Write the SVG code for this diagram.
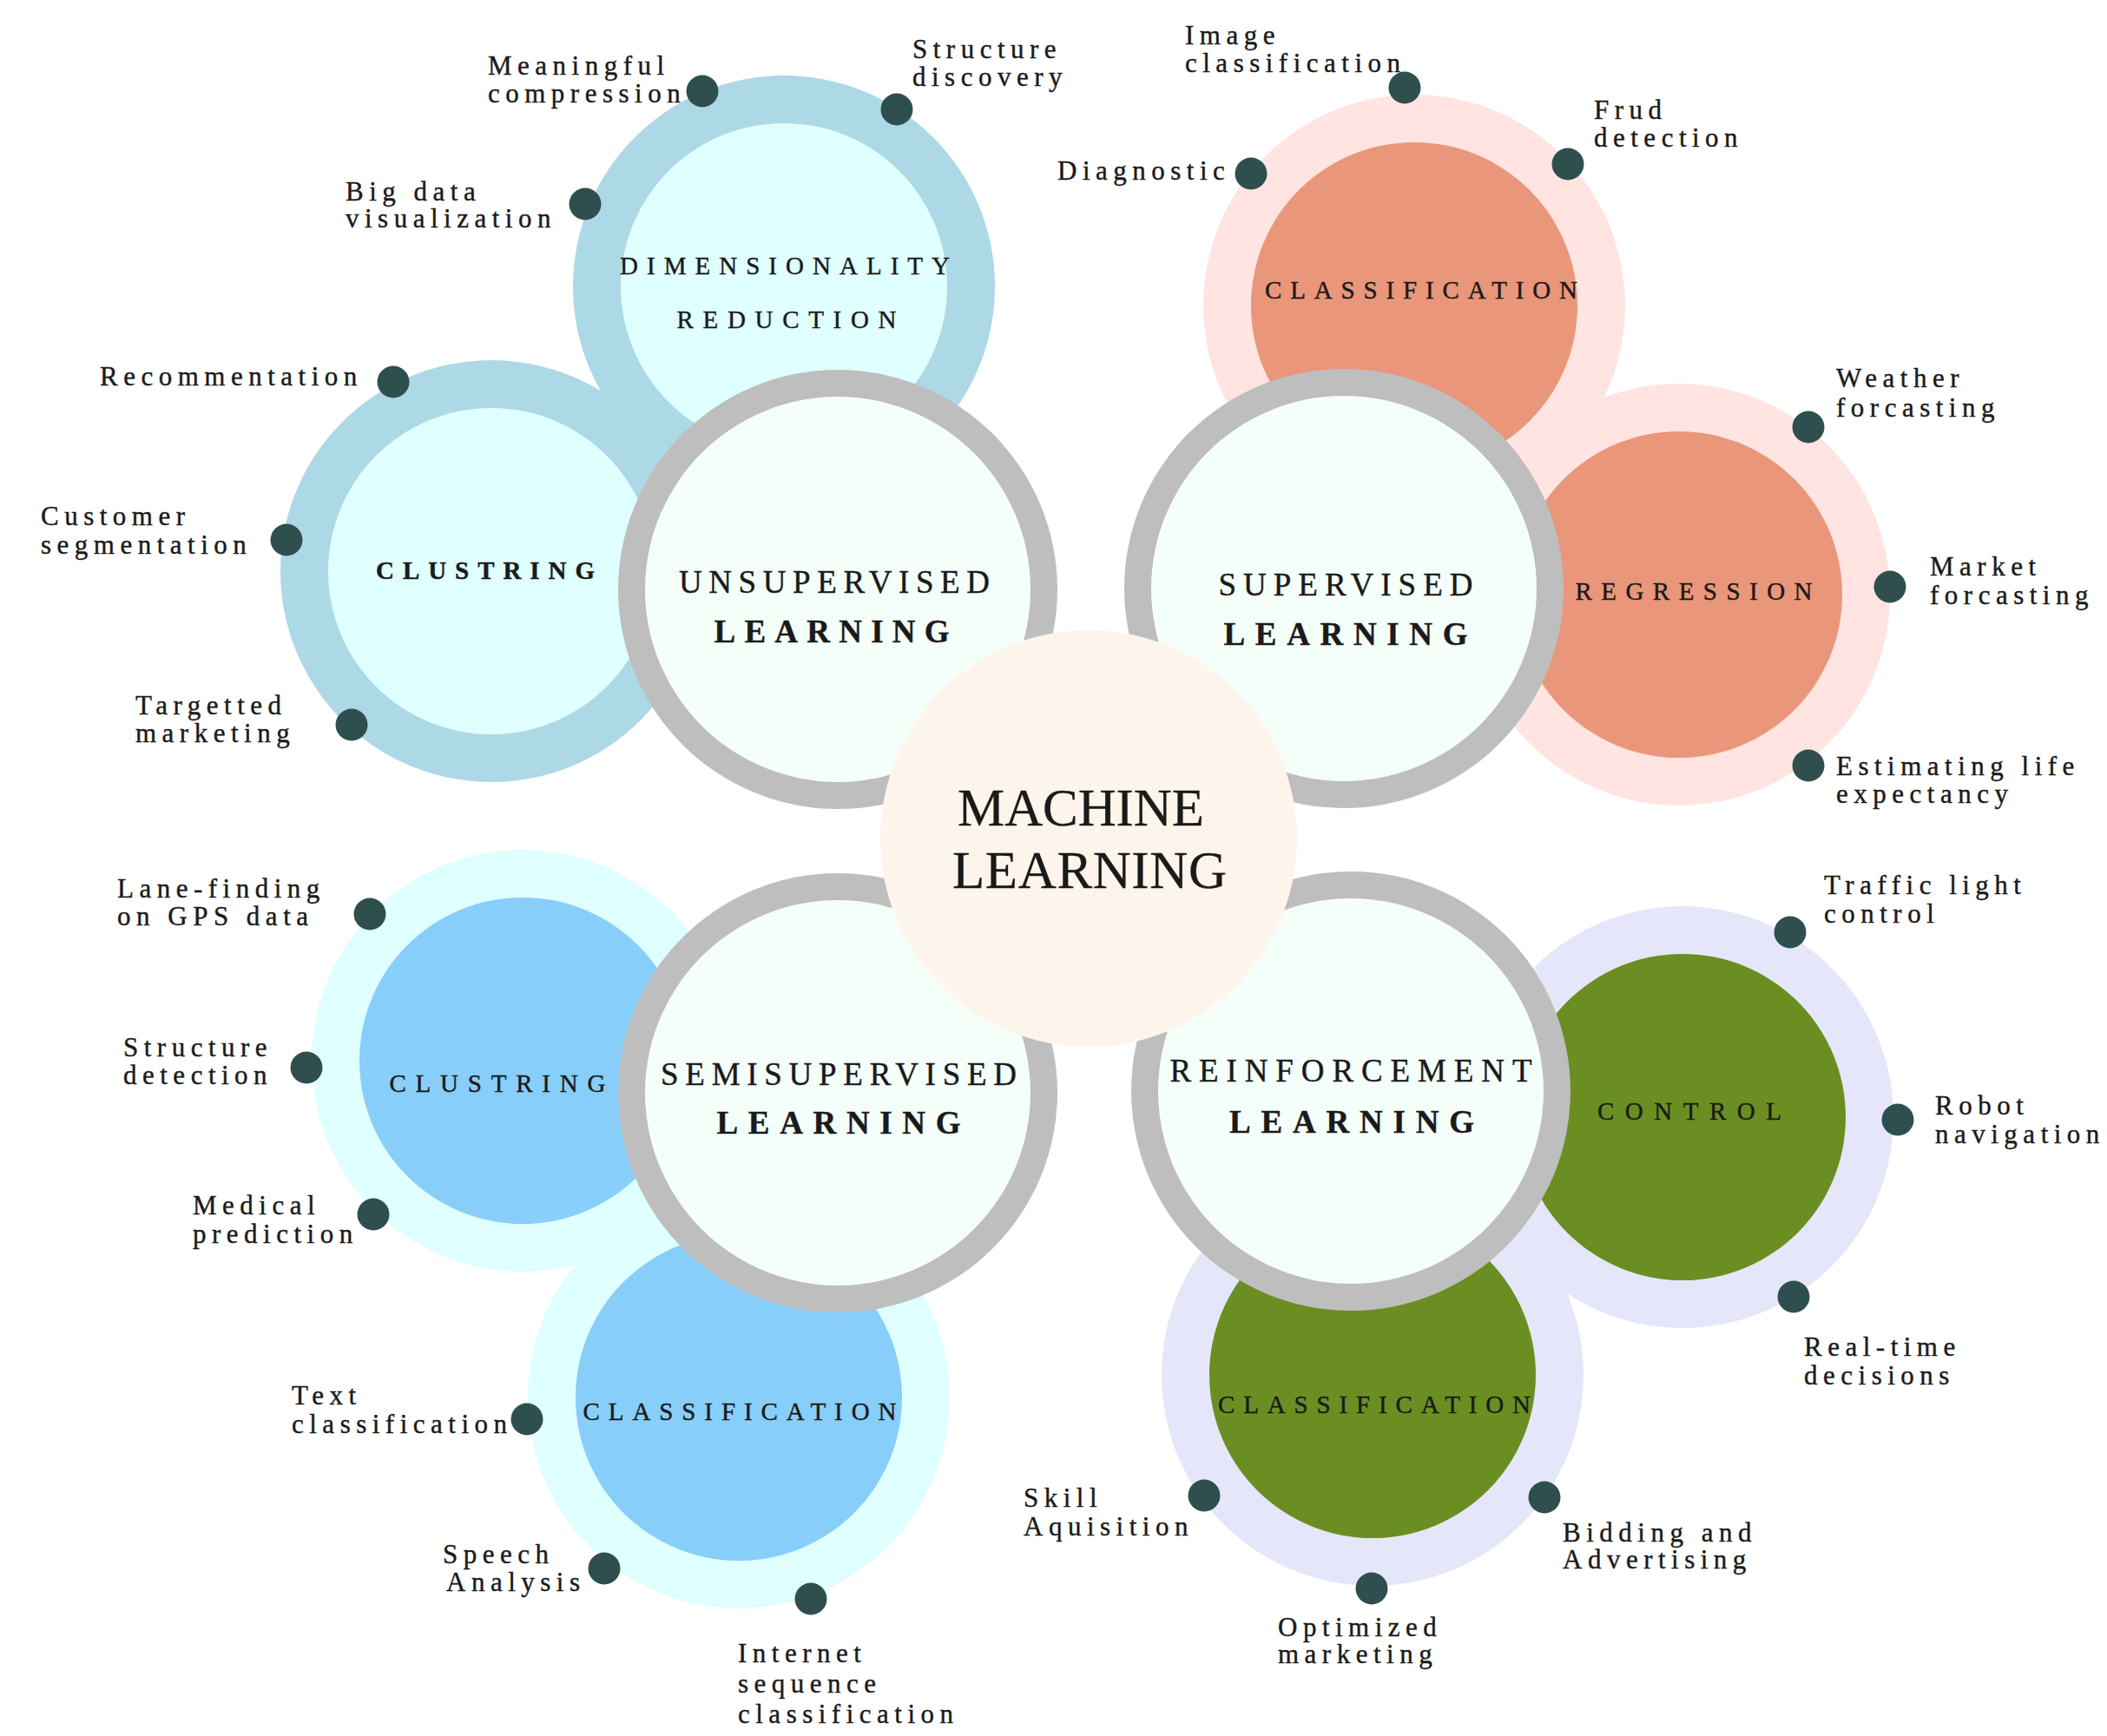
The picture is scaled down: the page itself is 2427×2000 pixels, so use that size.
<svg xmlns="http://www.w3.org/2000/svg" width="2427" height="2000" viewBox="0 0 2427 2000">
<style>
text{font-family:"Liberation Serif","Times New Roman",serif;fill:#1a1a1a;stroke:#1a1a1a;stroke-width:0.4px}
.lbl{font-size:31px;letter-spacing:6.5px}
.cat{font-size:29px;text-anchor:middle}
.catb{font-size:29px;text-anchor:middle;font-weight:bold}
.main{font-size:37px;text-anchor:middle}
.mainb{font-size:37px;text-anchor:middle;font-weight:bold}
.ml{font-size:61px;text-anchor:middle;stroke-width:0.3px}
.dot{fill:#2F4F4F}
.ring{fill:#BEBEBE}
.mint{fill:#F5FFFA}
.ub-o{fill:#ADD8E6}.ub-i{fill:#E0FFFF}
.sp-o{fill:#FFE4E1}.sp-i{fill:#E9967A}
.ss-o{fill:#E0FFFF}.ss-i{fill:#87CEFA}
.rf-o{fill:#E6E6FA}.rf-i{fill:#6B8E23}
</style>
<rect width="2427" height="2000" fill="#FFFFFF"/>
<g id="connectors"/>

<!-- Unsupervised sub nodes -->
<g id="dimensionality-reduction">
<circle class="ub-o" cx="903" cy="330" r="243"/>
<circle class="ub-i" cx="903" cy="330" r="188"/>
<text class="cat" x="904" y="316" textLength="380" lengthAdjust="spacing">DIMENSIONALITY</text>
<text class="cat" x="906" y="378" textLength="253" lengthAdjust="spacing">REDUCTION</text>
</g>
<g id="unsup-clustring">
<circle class="ub-o" cx="566" cy="658" r="243"/>
<circle class="ub-i" cx="566" cy="658" r="188"/>
<text class="catb" x="559" y="667" textLength="252" lengthAdjust="spacing">CLUSTRING</text>
</g>

<!-- Supervised sub nodes -->
<g id="sup-classification">
<circle class="sp-o" cx="1629" cy="352" r="243"/>
<circle class="sp-i" cx="1629" cy="352" r="188"/>
<text class="cat" x="1637" y="344" textLength="360" lengthAdjust="spacing">CLASSIFICATION</text>
</g>
<g id="regression">
<circle class="sp-o" cx="1934" cy="685" r="243"/>
<circle class="sp-i" cx="1934" cy="685" r="188"/>
<text class="cat" x="1951" y="691" textLength="273" lengthAdjust="spacing">REGRESSION</text>
</g>

<!-- Semisupervised sub nodes -->
<g id="semi-clustring">
<circle class="ss-o" cx="602" cy="1222" r="243"/>
<circle class="ss-i" cx="602" cy="1222" r="188"/>
<text class="cat" x="573" y="1258" textLength="249" lengthAdjust="spacing">CLUSTRING</text>
</g>
<g id="semi-classification">
<circle class="ss-o" cx="851" cy="1610" r="243"/>
<circle class="ss-i" cx="851" cy="1610" r="188"/>
<text class="cat" x="852" y="1636" textLength="361" lengthAdjust="spacing">CLASSIFICATION</text>
</g>

<!-- Reinforcement sub nodes -->
<g id="control">
<circle class="rf-o" cx="1938" cy="1287" r="243"/>
<circle class="rf-i" cx="1938" cy="1287" r="188"/>
<text class="cat" x="1946" y="1290" textLength="212" lengthAdjust="spacing">CONTROL</text>
</g>
<g id="reinf-classification">
<circle class="rf-o" cx="1581" cy="1584" r="243"/>
<circle class="rf-i" cx="1581" cy="1584" r="188"/>
<text class="cat" x="1583" y="1628" textLength="360" lengthAdjust="spacing">CLASSIFICATION</text>
</g>

<!-- Leaf items -->
<g id="leaf-meaningful-compression"><circle class="dot" cx="809" cy="105" r="18.5"/><text class="lbl" x="562" y="86">Meaningful</text><text class="lbl" x="562" y="118">compression</text></g>
<g id="leaf-structure-discovery"><circle class="dot" cx="1033" cy="126" r="18.5"/><text class="lbl" x="1051" y="67">Structure</text><text class="lbl" x="1051" y="99">discovery</text></g>
<g id="leaf-big-data"><circle class="dot" cx="674" cy="235" r="18.5"/><text class="lbl" x="398" y="231">Big data</text><text class="lbl" x="398" y="262">visualization</text></g>
<g id="leaf-recommentation"><circle class="dot" cx="453" cy="440" r="18.5"/><text class="lbl" x="115" y="444">Recommentation</text></g>
<g id="leaf-customer-segmentation"><circle class="dot" cx="330" cy="622" r="18.5"/><text class="lbl" x="47" y="605">Customer</text><text class="lbl" x="47" y="638">segmentation</text></g>
<g id="leaf-targetted-marketing"><circle class="dot" cx="405" cy="835" r="18.5"/><text class="lbl" x="156" y="823">Targetted</text><text class="lbl" x="156" y="855">marketing</text></g>

<g id="leaf-image-classification"><circle class="dot" cx="1618" cy="101" r="18.5"/><text class="lbl" x="1365" y="51">Image</text><text class="lbl" x="1365" y="83">classification</text></g>
<g id="leaf-frud-detection"><circle class="dot" cx="1806" cy="189" r="18.5"/><text class="lbl" x="1836" y="137">Frud</text><text class="lbl" x="1836" y="169">detection</text></g>
<g id="leaf-diagnostic"><circle class="dot" cx="1441" cy="200" r="18.5"/><text class="lbl" x="1218" y="207">Diagnostic</text></g>
<g id="leaf-weather-forcasting"><circle class="dot" cx="2083" cy="492" r="18.5"/><text class="lbl" x="2115" y="446">Weather</text><text class="lbl" x="2115" y="480">forcasting</text></g>
<g id="leaf-market-forcasting"><circle class="dot" cx="2177" cy="676" r="18.5"/><text class="lbl" x="2223" y="663">Market</text><text class="lbl" x="2223" y="696">forcasting</text></g>
<g id="leaf-estimating-life"><circle class="dot" cx="2083" cy="882" r="18.5"/><text class="lbl" x="2115" y="893">Estimating life</text><text class="lbl" x="2115" y="925">expectancy</text></g>

<g id="leaf-lane-finding"><circle class="dot" cx="426" cy="1053" r="18.5"/><text class="lbl" x="135" y="1034">Lane-finding</text><text class="lbl" x="135" y="1066">on GPS data</text></g>
<g id="leaf-structure-detection"><circle class="dot" cx="353" cy="1230" r="18.5"/><text class="lbl" x="142" y="1217">Structure</text><text class="lbl" x="142" y="1249">detection</text></g>
<g id="leaf-medical-prediction"><circle class="dot" cx="430" cy="1399" r="18.5"/><text class="lbl" x="222" y="1399">Medical</text><text class="lbl" x="222" y="1432">prediction</text></g>
<g id="leaf-text-classification"><circle class="dot" cx="607" cy="1635" r="18.5"/><text class="lbl" x="336" y="1618">Text</text><text class="lbl" x="336" y="1651">classification</text></g>
<g id="leaf-speech-analysis"><circle class="dot" cx="696" cy="1807" r="18.5"/><text class="lbl" x="510" y="1801">Speech</text><text class="lbl" x="514" y="1833">Analysis</text></g>
<g id="leaf-internet-sequence"><circle class="dot" cx="934" cy="1842" r="18.5"/><text class="lbl" x="850" y="1915">Internet</text><text class="lbl" x="850" y="1950">sequence</text><text class="lbl" x="850" y="1985">classification</text></g>

<g id="leaf-traffic-light"><circle class="dot" cx="2062" cy="1074" r="18.5"/><text class="lbl" x="2101" y="1030">Traffic light</text><text class="lbl" x="2101" y="1063">control</text></g>
<g id="leaf-robot-navigation"><circle class="dot" cx="2186" cy="1290" r="18.5"/><text class="lbl" x="2229" y="1284">Robot</text><text class="lbl" x="2229" y="1317">navigation</text></g>
<g id="leaf-real-time"><circle class="dot" cx="2066" cy="1494" r="18.5"/><text class="lbl" x="2078" y="1562">Real-time</text><text class="lbl" x="2078" y="1595">decisions</text></g>
<g id="leaf-skill-aquisition"><circle class="dot" cx="1387" cy="1723" r="18.5"/><text class="lbl" x="1179" y="1736">Skill</text><text class="lbl" x="1179" y="1769">Aquisition</text></g>
<g id="leaf-bidding"><circle class="dot" cx="1779" cy="1725" r="18.5"/><text class="lbl" x="1800" y="1776">Bidding and</text><text class="lbl" x="1800" y="1807">Advertising</text></g>
<g id="leaf-optimized-marketing"><circle class="dot" cx="1580" cy="1830" r="18.5"/><text class="lbl" x="1472" y="1885">Optimized</text><text class="lbl" x="1472" y="1916">marketing</text></g>

<!-- Main nodes -->
<g id="unsupervised-learning">
<circle class="ring" cx="965" cy="679" r="253"/>
<circle class="mint" cx="965" cy="679" r="222"/>
<text class="main" x="961" y="683" textLength="358" lengthAdjust="spacing">UNSUPERVISED</text>
<text class="mainb" x="958" y="740" textLength="271" lengthAdjust="spacing">LEARNING</text>
</g>
<g id="supervised-learning">
<circle class="ring" cx="1548" cy="678" r="253"/>
<circle class="mint" cx="1548" cy="678" r="222"/>
<text class="main" x="1550" y="686" textLength="293" lengthAdjust="spacing">SUPERVISED</text>
<text class="mainb" x="1550" y="743" textLength="281" lengthAdjust="spacing">LEARNING</text>
</g>
<g id="semisupervised-learning">
<circle class="ring" cx="965" cy="1259" r="253"/>
<circle class="mint" cx="965" cy="1259" r="222"/>
<text class="main" x="966" y="1250" textLength="410" lengthAdjust="spacing">SEMISUPERVISED</text>
<text class="mainb" x="966" y="1306" textLength="281" lengthAdjust="spacing">LEARNING</text>
</g>
<g id="reinforcement-learning">
<circle class="ring" cx="1556" cy="1257" r="253"/>
<circle class="mint" cx="1556" cy="1257" r="222"/>
<text class="main" x="1556" y="1246" textLength="417" lengthAdjust="spacing">REINFORCEMENT</text>
<text class="mainb" x="1557" y="1305" textLength="282" lengthAdjust="spacing">LEARNING</text>
</g>

<!-- Center -->
<g id="machine-learning">
<circle cx="1254" cy="966" r="240" fill="#FDF5EC" stroke="none"/>
<text class="ml" x="1245" y="951" textLength="284" lengthAdjust="spacing">MACHINE</text>
<text class="ml" x="1255" y="1023" textLength="316" lengthAdjust="spacing">LEARNING</text>
</g>
</svg>
